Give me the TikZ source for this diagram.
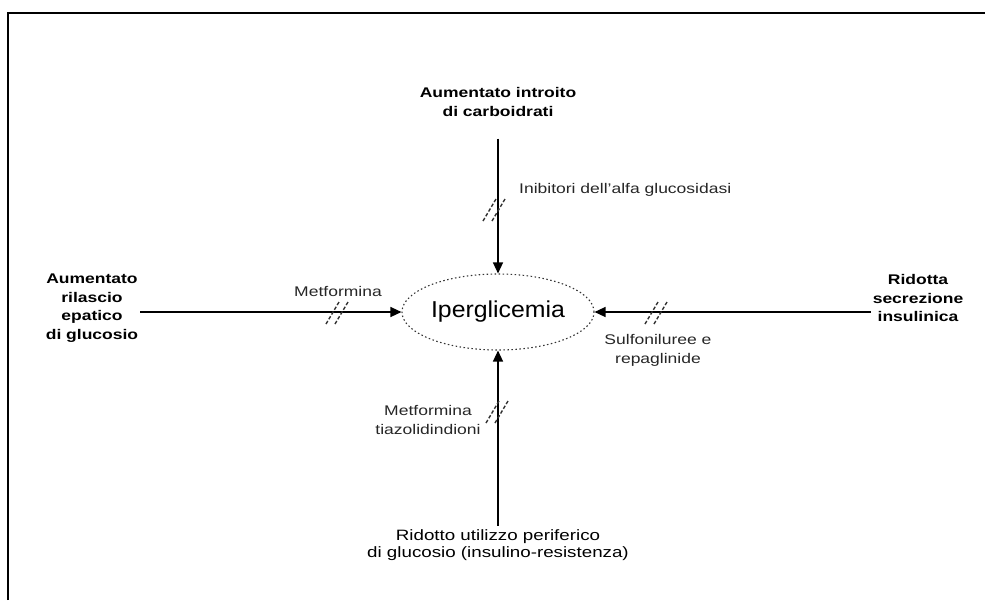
\documentclass[tikz,border=0pt]{standalone}
\usepackage{fontspec}
\setmainfont[FakeStretch=1.25]{Liberation Sans}
\newfontfamily\iperfont[FakeStretch=1.08]{Liberation Sans}
\usetikzlibrary{arrows.meta,shapes.geometric}

\tikzset{
  arr/.style={-{Triangle[length=11pt,width=10pt]}, line width=1.3pt},
  srcbold/.style={align=center, font=\fontsize{14}{18.5}\selectfont\bfseries, inner sep=2pt},
  drug/.style={align=center, font=\fontsize{14}{19}\selectfont, text=black!85, inner sep=1pt},
  brk/.style={dash pattern=on 3.5pt off 2pt, line width=1.4pt, black!80},
  stopmark/.pic={\draw[brk] (-12,11) -- (1,-11) (-3,11) -- (10,-11);}
}

\begin{document}
\begin{tikzpicture}[x=1pt, y=-1pt]
    \useasboundingbox (0,0) rectangle (985,600);
    % cornice
    \draw[line width=2pt] (8,600) -- (8,13) -- (985,13);
    % centro
    \node[ellipse, draw=black!80, dash pattern=on 1.5pt off 2.5pt, line width=1.1pt, minimum width=192, minimum height=76, inner sep=0pt, font=\iperfont\fontsize{23}{26}\selectfont] (iper) at (498,312) {Iperglicemia};
    % cause
    \node[srcbold] (carbo) at (498,102) {Aumentato introito\\di carboidrati};
    \node[srcbold] (epatico) at (92,308) {Aumentato\\rilascio\\epatico\\di glucosio};
    \node[srcbold] (secrez) at (918,298) {Ridotta\\secrezione\\insulinica};
    \node[align=center, font=\fontsize{15}{17.5}\selectfont] (periferico) at (498,545) {Ridotto utilizzo periferico\\di glucosio (insulino-resistenza)};
    % frecce
    \draw[arr, shorten <=20pt] (carbo) -- (iper);
    \draw[arr] (epatico.east |- iper) -- (iper.west);
    \draw[arr] (secrez.west |- iper) -- (iper.east);
    \draw[arr] (periferico) -- (iper);
    % farmaci
    \node[drug, anchor=west] (inibitori) at (518,190) {Inibitori dell'alfa glucosidasi};
    \node[drug] (metf) at (338,291) {Metformina};
    \node[drug] (sulfo) at (658,350) {Sulfoniluree e\\repaglinide};
    \node[drug] (tiazo) at (428,420) {Metformina\\tiazolidindioni};
    \pic at (495,210) {stopmark};
    \pic at (338,313) {stopmark};
    \pic at (657,313) {stopmark};
    \pic at (498,412) {stopmark};
\end{tikzpicture}
\end{document}
